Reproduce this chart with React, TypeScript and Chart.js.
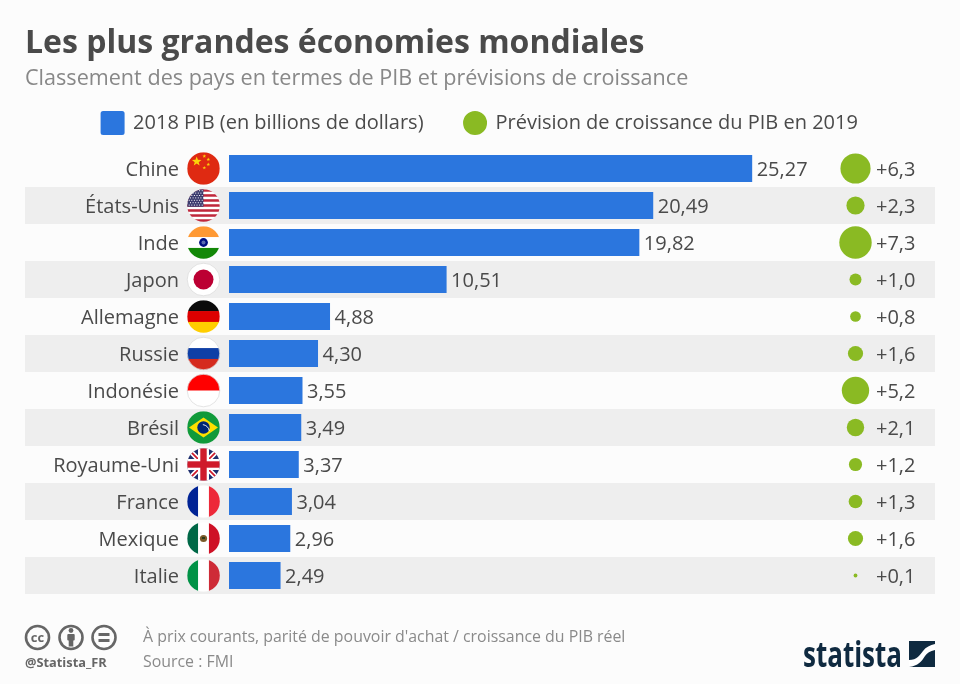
import React, { useEffect, useRef } from "react";
import { Chart, registerables } from "chart.js";

Chart.register(...registerables);

const countries = ["Chine", "États-Unis", "Inde", "Japon", "Allemagne", "Russie", "Indonésie", "Brésil", "Royaume-Uni", "France", "Mexique", "Italie"];
const gdp2018 = [25.27, 20.49, 19.82, 10.51, 4.88, 4.3, 3.55, 3.49, 3.37, 3.04, 2.96, 2.49];
const growth2019 = [6.3, 2.3, 7.3, 1.0, 0.8, 1.6, 5.2, 2.1, 1.2, 1.3, 1.6, 0.1];
const flagCodes = ["cn", "us", "in", "jp", "de", "ru", "id", "br", "gb", "fr", "mx", "it"];

const TITLE = "Les plus grandes économies mondiales";
const SUBTITLE = "Classement des pays en termes de PIB et prévisions de croissance";
const GDP_LABEL = "2018 PIB (en billions de dollars)";
const GROWTH_LABEL = "Prévision de croissance du PIB en 2019";
const NOTE = "À prix courants, parité de pouvoir d'achat / croissance du PIB réel";
const SOURCE = "Source : FMI";
const HANDLE = "@Statista_FR";

const FONT = '"Open Sans", sans-serif';
const BLUE = "#2b76de";
const GREEN = "#8aba23";
const TEXT = "#4a4a4a";
const STRIPE = "#eeeeee";
const BG = "#fcfcfc";
const X_MAX = 34.1;
const GROWTH_COLUMN = 30.26;
const RADIUS_PER_ROOT = 6;

const fr = (v: number, d: number) => v.toFixed(d).replace(".", ",");

function star(ctx: CanvasRenderingContext2D, x: number, y: number, r: number, rot = 0) {
  ctx.beginPath();
  for (let i = 0; i < 10; i++) {
    const a = -Math.PI / 2 + rot + (i * Math.PI) / 5;
    const rr = i % 2 ? r * 0.42 : r;
    ctx.lineTo(x + rr * Math.cos(a), y + rr * Math.sin(a));
  }
  ctx.closePath();
  ctx.fill();
}

function bandsH(ctx: CanvasRenderingContext2D, r: number, colors: string[]) {
  colors.forEach((c, i) => {
    ctx.fillStyle = c;
    ctx.fillRect(-r, -r + (i * 2 * r) / colors.length, 2 * r, (2 * r) / colors.length + 0.5);
  });
}

function bandsV(ctx: CanvasRenderingContext2D, r: number, colors: string[]) {
  colors.forEach((c, i) => {
    ctx.fillStyle = c;
    ctx.fillRect(-r + (i * 2 * r) / colors.length, -r, (2 * r) / colors.length + 0.5, 2 * r);
  });
}

function drawFlag(ctx: CanvasRenderingContext2D, code: string, cx: number, cy: number, r: number) {
  ctx.save();
  ctx.translate(cx, cy);
  ctx.beginPath();
  ctx.arc(0, 0, r, 0, Math.PI * 2);
  ctx.clip();
  switch (code) {
    case "cn": {
      ctx.fillStyle = "#df2a12";
      ctx.fillRect(-r, -r, 2 * r, 2 * r);
      ctx.fillStyle = "#fbd40a";
      star(ctx, -6.8, -7, 5);
      star(ctx, 0.8, -12.3, 1.9);
      star(ctx, 4.8, -9, 1.9);
      star(ctx, 4.8, -4, 1.9);
      star(ctx, 0.8, -0.7, 1.9);
      break;
    }
    case "us": {
      const n = 13;
      for (let i = 0; i < n; i++) {
        ctx.fillStyle = i % 2 ? "#ffffff" : "#c0283c";
        ctx.fillRect(-r, -r + (i * 2 * r) / n, 2 * r, (2 * r) / n + 0.3);
      }
      ctx.fillStyle = "#3c3b6e";
      ctx.fillRect(-r, -r, r, (2 * r * 7) / n);
      ctx.fillStyle = "#ffffff";
      for (let a = 0; a < 7; a++) {
        for (let b = 0; b < 6; b++) {
          ctx.fillRect(-r + 1.5 + b * 2.6 + (a % 2 ? 1.3 : 0), -r + 1 + a * 2.4, 1, 1);
        }
      }
      break;
    }
    case "in": {
      bandsH(ctx, r, ["#ff9933", "#ffffff", "#138808"]);
      ctx.fillStyle = "#000f80";
      ctx.beginPath();
      ctx.arc(0, 0, 4.4, 0, Math.PI * 2);
      ctx.fill();
      ctx.fillStyle = "#5a6ab0";
      ctx.beginPath();
      ctx.arc(0, 0, 2, 0, Math.PI * 2);
      ctx.fill();
      break;
    }
    case "jp": {
      ctx.fillStyle = "#ffffff";
      ctx.fillRect(-r, -r, 2 * r, 2 * r);
      ctx.fillStyle = "#bc0033";
      ctx.beginPath();
      ctx.arc(0, 0, 10, 0, Math.PI * 2);
      ctx.fill();
      break;
    }
    case "de":
      bandsH(ctx, r, ["#0a0a0a", "#dd0000", "#ffce00"]);
      break;
    case "ru":
      bandsH(ctx, r, ["#ffffff", "#0f3fa6", "#d52b1e"]);
      break;
    case "id":
      bandsH(ctx, r, ["#ff0000", "#ffffff"]);
      break;
    case "br": {
      ctx.fillStyle = "#109a3a";
      ctx.fillRect(-r, -r, 2 * r, 2 * r);
      ctx.fillStyle = "#fedf00";
      ctx.beginPath();
      ctx.moveTo(-14.5, 0);
      ctx.lineTo(0, -10);
      ctx.lineTo(14.5, 0);
      ctx.lineTo(0, 10);
      ctx.closePath();
      ctx.fill();
      ctx.fillStyle = "#002776";
      ctx.beginPath();
      ctx.arc(0, 0, 6.2, 0, Math.PI * 2);
      ctx.fill();
      ctx.strokeStyle = "#ffffff";
      ctx.lineWidth = 0.9;
      ctx.beginPath();
      ctx.arc(-2, 5, 8, -1.4, -0.2);
      ctx.stroke();
      break;
    }
    case "gb": {
      ctx.fillStyle = "#1f2f6e";
      ctx.fillRect(-r, -r, 2 * r, 2 * r);
      ctx.strokeStyle = "#ffffff";
      ctx.lineWidth = 5;
      ctx.beginPath();
      ctx.moveTo(-r, -r);
      ctx.lineTo(r, r);
      ctx.moveTo(r, -r);
      ctx.lineTo(-r, r);
      ctx.stroke();
      ctx.strokeStyle = "#cf1b2b";
      ctx.lineWidth = 1.7;
      ctx.beginPath();
      ctx.moveTo(-r, -r);
      ctx.lineTo(r, r);
      ctx.moveTo(r, -r);
      ctx.lineTo(-r, r);
      ctx.stroke();
      ctx.fillStyle = "#ffffff";
      ctx.fillRect(-r, -5.5, 2 * r, 11);
      ctx.fillRect(-5.5, -r, 11, 2 * r);
      ctx.fillStyle = "#cf1b2b";
      ctx.fillRect(-r, -3.2, 2 * r, 6.4);
      ctx.fillRect(-3.2, -r, 6.4, 2 * r);
      break;
    }
    case "fr":
      bandsV(ctx, r, ["#002395", "#ffffff", "#ed2939"]);
      break;
    case "mx": {
      bandsV(ctx, r, ["#006847", "#ffffff", "#ce1126"]);
      ctx.fillStyle = "#7a5a2a";
      ctx.beginPath();
      ctx.arc(0, 0, 3.6, 0, Math.PI * 2);
      ctx.fill();
      ctx.fillStyle = "#2c3a1a";
      ctx.fillRect(-1.5, -1.5, 3, 2);
      break;
    }
    case "it":
      bandsV(ctx, r, ["#009246", "#ffffff", "#ce2b37"]);
      break;
  }
  ctx.restore();
  if (["jp", "id", "ru"].includes(code)) {
    ctx.strokeStyle = "#d8d8d8";
    ctx.lineWidth = 0.7;
    ctx.beginPath();
    ctx.arc(cx, cy, r, 0, Math.PI * 2);
    ctx.stroke();
  }
}

const rowDecor = {
  id: "rowDecor",
  beforeUpdate(chart: any) {
    const legend = chart.legend;
    if (legend && !legend.__trimmed) {
      legend.__trimmed = true;
      const fit = legend.fit;
      legend.fit = function () {
        fit.call(this);
        this.height = 78.5;
      };
    }
  },
  beforeDraw(chart: any) {
    const { ctx, chartArea, scales } = chart;
    const y = scales.y;
    const step = Math.abs(y.getPixelForValue(1) - y.getPixelForValue(0));
    ctx.save();
    ctx.fillStyle = STRIPE;
    countries.forEach((_, i) => {
      if (i % 2) ctx.fillRect(chartArea.left - 204, y.getPixelForValue(i) - step / 2, chartArea.right - chartArea.left + 204, step);
    });
    flagCodes.forEach((c, i) => drawFlag(ctx, c, chartArea.left - 25.5, y.getPixelForValue(i), 16.3));
    ctx.restore();
  },
};

const valueLabels = {
  id: "valueLabels",
  afterDatasetsDraw(chart: any) {
    const { ctx, scales } = chart;
    ctx.save();
    ctx.font = `20px ${FONT}`;
    ctx.fillStyle = TEXT;
    ctx.textBaseline = "middle";
    ctx.textAlign = "left";
    countries.forEach((_, i) => {
      const py = scales.y.getPixelForValue(i) + 1.5;
      ctx.fillText(fr(gdp2018[i], 2), scales.x.getPixelForValue(gdp2018[i]) + 4.5, py);
      ctx.fillText("+" + fr(growth2019[i], 1), 876, py);
    });
    ctx.restore();
  },
};

export default function App() {
  const ref = useRef<HTMLCanvasElement>(null);
  useEffect(() => {
    document.body.style.margin = "0";
    document.body.style.background = BG;
    const chart = new Chart(ref.current!, {
      type: "bar",
      data: {
        labels: countries,
        datasets: [
          {
            type: "bar",
            label: GDP_LABEL,
            data: gdp2018,
            backgroundColor: BLUE,
            barPercentage: 27 / 37,
            categoryPercentage: 1,
            order: 2,
          },
          {
            type: "bubble",
            label: GROWTH_LABEL,
            data: countries.map((c, i) => ({ x: GROWTH_COLUMN, y: c, r: RADIUS_PER_ROOT * Math.sqrt(growth2019[i]) })),
            backgroundColor: GREEN,
            borderWidth: 0,
            order: 1,
          },
        ] as any,
      },
      options: {
        indexAxis: "y",
        responsive: false,
        animation: false,
        maintainAspectRatio: false,
        layout: { padding: { left: 25, right: 25, top: 25, bottom: 90 } },
        plugins: {
          tooltip: { enabled: false },
          title: {
            display: true,
            text: TITLE,
            align: "start",
            color: TEXT,
            font: { family: FONT, size: 32, weight: "bold", lineHeight: 1.2 },
            padding: { top: 0, bottom: 2 },
          },
          subtitle: {
            display: true,
            text: SUBTITLE,
            align: "start",
            color: "#888888",
            font: { family: FONT, size: 21.6, lineHeight: 1.2 },
            padding: { top: 0, bottom: -19.82 },
          },
          legend: {
            display: true,
            position: "top",
            align: "center",
            labels: {
              boxWidth: 21,
              boxHeight: 21,
              padding: 41,
              useBorderRadius: true,
              color: TEXT,
              font: { family: FONT, size: 20 },
              generateLabels: () => [
                { text: GDP_LABEL, fillStyle: BLUE, strokeStyle: BLUE, lineWidth: 3, borderRadius: 1, fontColor: TEXT, datasetIndex: 0 },
                { text: GROWTH_LABEL, fillStyle: GREEN, strokeStyle: GREEN, lineWidth: 3, borderRadius: 10.5, fontColor: TEXT, datasetIndex: 1 },
              ],
            },
          },
        },
        scales: {
          x: { type: "linear", display: false, min: 0, max: X_MAX, grid: { display: false } },
          y: {
            type: "category",
            offset: true,
            grid: { display: false, drawTicks: false },
            border: { display: false },
            afterFit(s: any) {
              s.width = 204;
            },
            ticks: {
              color: TEXT,
              padding: 50,
              font: { family: FONT, size: 20, lineHeight: 0.2 },
              autoSkip: false,
              callback(this: any, v: any) {
                return ["", this.getLabelForValue(v)];
              },
            },
          },
        },
      } as any,
      plugins: [rowDecor, valueLabels],
    });
    return () => chart.destroy();
  }, []);

  const foot: React.CSSProperties = { position: "absolute", fontFamily: FONT, whiteSpace: "nowrap" };
  return (
    <div style={{ position: "absolute", left: 0, top: 0, width: 960, height: 684, overflow: "hidden", background: BG }}>
      <canvas ref={ref} width={960} height={684} style={{ display: "block", width: 960, height: 684 }} />
      <svg width={960} height={684} style={{ position: "absolute", left: 0, top: 0 }}>
        <g fill="none" stroke="#666" strokeWidth={2.6}>
          <circle cx={37.5} cy={637.5} r={11.5} />
          <circle cx={71} cy={637.5} r={11.5} />
          <circle cx={104} cy={637.5} r={11.5} />
        </g>
        <text x={37.5} y={642} textAnchor="middle" fontFamily={FONT} fontWeight={700} fontSize={13} fill="#666">cc</text>
        <g fill="#666">
          <circle cx={71} cy={630.5} r={2.4} />
          <rect x={67.3} y={634} width={7.4} height={6.5} rx={1} />
          <rect x={68.7} y={640} width={4.6} height={6.5} />
          <rect x={98.5} y={633} width={11} height={3} />
          <rect x={98.5} y={639} width={11} height={3} />
        </g>
        <rect x={909} y={641} width={26} height={26} fill="#0f2a40" />
        <path d="M909 660 C917 660 920 655 923 651 C926 647 930 645 935 644 V650 C930 651 927 653 925 656 C922 661 918 666 909 667 Z" fill="#fff" />
        <text x={803} y={667} fontFamily={FONT} fontWeight={700} fontSize={36} fill="#0f2a40" textLength={99} lengthAdjust="spacingAndGlyphs">statista</text>
      </svg>
      <div style={{ ...foot, left: 143, top: 625, fontSize: 15.9, lineHeight: "22px", color: "#8a8a8a" }}>{NOTE}</div>
      <div style={{ ...foot, left: 143, top: 650, fontSize: 15.9, lineHeight: "22px", color: "#8a8a8a" }}>{SOURCE}</div>
      <div style={{ ...foot, left: 25, top: 654, fontSize: 12.8, lineHeight: "16px", fontWeight: 700, color: "#666" }}>{HANDLE}</div>
    </div>
  );
}
